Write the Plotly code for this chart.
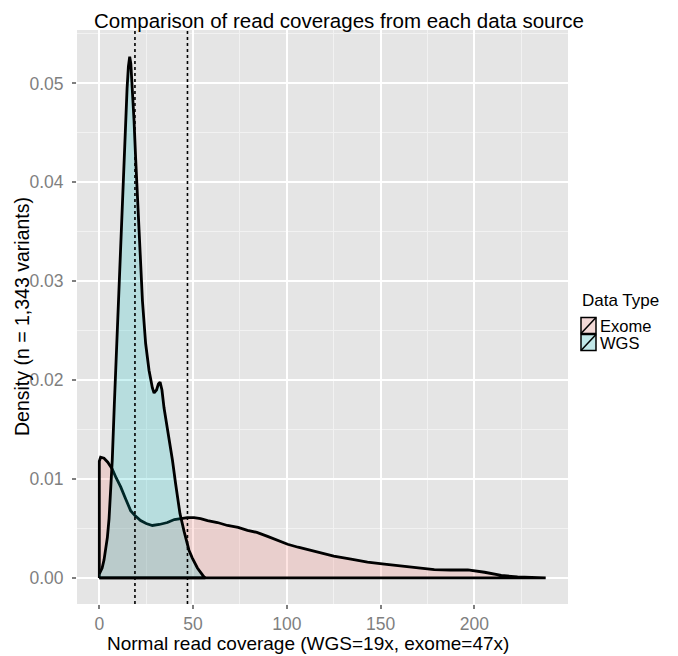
import plotly.graph_objects as go

# ---- data ----
wgs_x = [0, 1.5, 2.5, 3.5, 4.3, 5.2, 6.0, 6.9, 8.0, 9.0, 10.0, 11.0, 12.0, 13.0, 14.0, 14.8, 15.5,
         16.2, 16.8, 17.6, 18.5, 19.4, 20.6, 22.0, 23.0, 24.7, 26.5, 28.3, 29.2, 30.5, 31.5, 32.4,
         33.4, 34.5, 36.6, 39.0, 40.7, 43.0, 45.2, 47.8, 49.6, 52.3, 55.8, 56.5]
wgs_y = [0.0004, 0.0010, 0.0018, 0.0030, 0.0041, 0.0060, 0.0085, 0.0119, 0.0175, 0.0225, 0.0275,
         0.0325, 0.0372, 0.0420, 0.0463, 0.0495, 0.0517, 0.0527, 0.0520, 0.0495, 0.0463, 0.0423,
         0.0370, 0.0321, 0.0280, 0.0237, 0.0210, 0.0192, 0.0187, 0.0190, 0.0196, 0.0198, 0.0190,
         0.0172, 0.0148, 0.0119, 0.0095, 0.0065, 0.0047, 0.0028, 0.0020, 0.0010, 0.0001, 0.0]

exome_x = [0, 0, 0.7, 2.5, 4.5, 6.9, 9.0, 11.4, 14.0, 16.7, 19.0, 22.0, 25.0, 28.3, 32.0, 36.3, 40.0,
           43.4, 47.0, 50.5, 54.0, 57.7, 63.0, 68.3, 74.0, 79.0, 84.0, 89.7, 95.0, 100.4, 106.0,
           112.8, 116.4, 125.0, 134.2, 143.0, 152.0, 161.0, 169.8, 178.6, 187.0, 196.5, 205.4,
           214.3, 223.0, 230.0, 238.0]
exome_y = [0.0, 0.0118, 0.0122, 0.0121, 0.0117, 0.0110, 0.0101, 0.0092, 0.0080, 0.0068, 0.0063,
           0.0058, 0.0055, 0.0053, 0.0054, 0.0056, 0.0059, 0.0060, 0.0061, 0.0061, 0.0060, 0.0058,
           0.0056, 0.0053, 0.0051, 0.0048, 0.0046, 0.0042, 0.0038, 0.0034, 0.0031, 0.0028, 0.0026,
           0.0022, 0.0019, 0.0016, 0.0014, 0.0012, 0.0010, 0.00084, 0.0008, 0.0008, 0.00057,
           0.00025, 0.0001, 0.00004, 0.0]

median_lines = [19, 47]
x_ticks = [0, 50, 100, 150, 200]
y_ticks = [0.00, 0.01, 0.02, 0.03, 0.04, 0.05]
series_names = ["Exome", "WGS"]
series_fill = ["rgba(248,118,109,0.2)", "rgba(0,191,196,0.2)"]

FONT = "Liberation Sans, Arial, Helvetica, sans-serif"
OFF = 8                      # default page body margin of the written html
W, H = 678 - OFF, 656 - OFF  # figure size so it fits the window exactly
# panel edges in page pixels
PL, PR, PT, PB = 77, 568, 30, 604
L, R, T, B = PL - OFF, PR - OFF, PT - OFF, PB - OFF

fig = go.Figure()
for name, xs, ys, col in [("Exome", exome_x, exome_y, series_fill[0]),
                          ("WGS", wgs_x, wgs_y, series_fill[1])]:
    px_ = list(xs) + [xs[-1], xs[0]]
    py_ = list(ys) + [0.0, 0.0]
    fig.add_trace(go.Scatter(x=px_, y=py_, mode="lines", fill="toself", fillcolor=col,
                             line=dict(color="black", width=2.8), name=name,
                             showlegend=False, hoverinfo="skip"))

shapes = []
for v in median_lines:
    shapes.append(dict(type="line", xref="x", yref="paper", x0=v, x1=v, y0=0, y1=1,
                       line=dict(color="black", width=1.6, dash="dot"), layer="above"))


def xp(page_px):
    return (page_px - PL) / (PR - PL)


def yp(page_py):
    return (PB - page_py) / (PB - PT)


KL, KR = 581, 596
annotations = [dict(text="Data Type", xref="paper", yref="paper", x=xp(KL - 1), y=yp(300),
                    xanchor="left", yanchor="middle", showarrow=False,
                    font=dict(family=FONT, size=17, color="black"))]
key_top = [317, 334]
for i, name in enumerate(series_names):
    y0, y1 = key_top[i] + 17, key_top[i]
    shapes.append(dict(type="rect", xref="paper", yref="paper", x0=xp(KL), x1=xp(KR),
                       y0=yp(y0), y1=yp(y1), fillcolor="#F2F2F2", line=dict(width=0)))
    shapes.append(dict(type="rect", xref="paper", yref="paper", x0=xp(KL), x1=xp(KR),
                       y0=yp(y0 - 0.5), y1=yp(y1 + 0.5), fillcolor=series_fill[i],
                       line=dict(color="black", width=1.5)))
    shapes.append(dict(type="line", xref="paper", yref="paper", x0=xp(KL), x1=xp(KR),
                       y0=yp(y0 - 0.5), y1=yp(y1 + 0.5), line=dict(color="black", width=1.5)))
    annotations.append(dict(text=name, xref="paper", yref="paper", x=xp(KR + 2),
                            y=yp((y0 + y1) / 2), xanchor="left", yanchor="middle",
                            showarrow=False, font=dict(family=FONT, size=16.5, color="black")))

# axis titles
annotations.append(dict(text="Normal read coverage (WGS=19x, exome=47x)", xref="paper",
                        yref="paper", x=xp(308), y=yp(656), xanchor="center", yanchor="bottom",
                        showarrow=False, font=dict(family=FONT, size=19, color="black")))
annotations.append(dict(text="Density (n = 1,343 variants)", xref="paper", yref="paper",
                        x=xp(9), y=yp(317), xanchor="left", yanchor="middle",
                        textangle=-90, showarrow=False,
                        font=dict(family=FONT, size=19.5, color="black")))

fig.update_layout(
    width=W, height=H,
    margin=dict(l=L, r=W - R, t=T, b=H - B, pad=0),
    paper_bgcolor="white", plot_bgcolor="#E5E5E5",
    font=dict(family=FONT, color="black"),
    title=dict(text="Comparison of read coverages from each data source",
               x=(339 - OFF) / W, xref="container", xanchor="center",
               y=1 - (20.5 - OFF) / H, yref="container", yanchor="middle",
               font=dict(family=FONT, size=20.5, color="black")),
    shapes=shapes, annotations=annotations,
    showlegend=False,
)
fig.update_xaxes(range=[-11.9, 249.9], tickvals=x_ticks, ticks="outside", ticklen=4,
                 tickwidth=1.5, tickcolor="#7F7F7F", ticklabelstandoff=0,
                 tickfont=dict(family=FONT, size=17.5, color="#7F7F7F"),
                 showgrid=True, gridcolor="white", gridwidth=2, zeroline=False, showline=False,
                 minor=dict(tick0=25, dtick=50, showgrid=True, gridcolor="#F2F2F2", gridwidth=1))
fig.update_yaxes(range=[-0.00264, 0.0554], tickvals=y_ticks, tickformat=".2f",
                 ticks="outside", ticklen=4, tickwidth=1.5, tickcolor="#7F7F7F",
                 ticklabelstandoff=5,
                 tickfont=dict(family=FONT, size=17.5, color="#7F7F7F"),
                 showgrid=True, gridcolor="white", gridwidth=2, zeroline=False, showline=False,
                 minor=dict(tick0=0.005, dtick=0.01, showgrid=True, gridcolor="#F2F2F2",
                            gridwidth=1))

fig.write_html("out.html")
